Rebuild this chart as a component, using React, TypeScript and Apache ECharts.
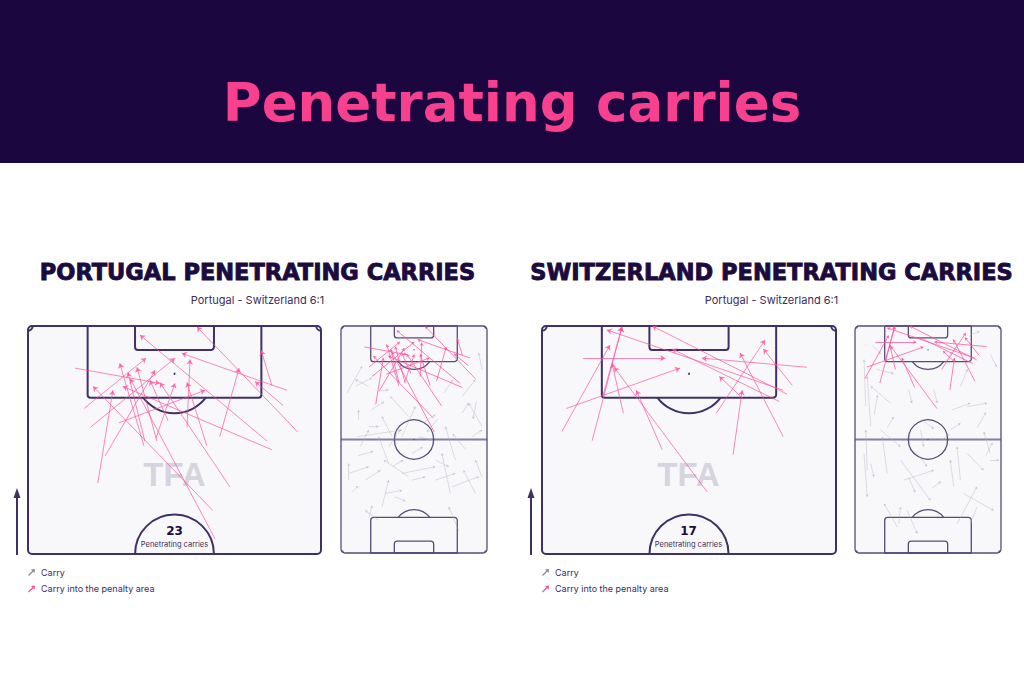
import React, { useEffect, useRef } from "react";
import * as echarts from "echarts";

// ---------- texts ----------
const MAIN_TITLE = "Penetrating carries";
const PANEL_TITLES = ["PORTUGAL PENETRATING CARRIES", "SWITZERLAND PENETRATING CARRIES"];
const SUBTITLE = "Portugal - Switzerland 6:1";
const LEGEND_LABELS = ["Carry", "Carry into the penalty area"];
const COUNT_LABEL = "Penetrating carries";
const WATERMARK = "TFA";

// ---------- pitch (metres, 68 wide, 105 long, attacking upwards) ----------
const PITCH_W = 68;
const PITCH_L = 105;

// carries: [xStart, yStart, xEnd, yEnd] in metres
const portugalPenetrating = [
  [62.6, 80.6, 39.2, 104.8],
  [56.6, 91.3, 54.1, 99.4],
  [59.2, 86.7, 52.7, 92.2],
  [55.5, 78.5, 26.0, 102.9],
  [60.1, 90.2, 35.7, 98.7],
  [10.9, 95.3, 30.6, 91.8],
  [13.0, 86.0, 27.4, 97.6],
  [14.4, 81.6, 34.1, 97.6],
  [16.2, 68.8, 19.7, 90.2],
  [21.1, 82.7, 41.1, 90.2],
  [26.9, 77.4, 21.3, 96.4],
  [29.9, 78.5, 25.3, 95.5],
  [42.9, 62.5, 15.1, 91.1],
  [43.4, 56.0, 23.7, 92.9],
  [46.9, 67.9, 30.6, 92.0],
  [36.9, 81.6, 37.6, 97.3],
  [41.5, 77.4, 36.9, 92.0],
  [44.5, 79.5, 49.0, 95.3],
  [56.6, 76.5, 22.0, 91.1],
  [29.7, 79.2, 34.1, 91.8],
  [17.9, 75.1, 29.5, 94.8],
  [27.1, 78.5, 23.2, 94.3],
  [32.5, 83.2, 28.3, 92.5],
];

const switzerlandPenetrating = [
  [9.5, 97.6, 28.5, 97.6],
  [5.6, 86.0, 31.9, 95.3],
  [4.6, 80.7, 15.7, 100.6],
  [11.6, 78.6, 18.5, 104.8],
  [18.8, 84.9, 16.2, 96.4],
  [27.8, 76.5, 21.8, 90.2],
  [38.2, 66.8, 16.7, 95.5],
  [44.2, 75.4, 46.3, 90.2],
  [40.3, 84.9, 51.6, 101.8],
  [55.8, 79.5, 45.8, 98.8],
  [57.9, 91.3, 51.2, 99.7],
  [61.3, 95.5, 37.0, 97.6],
  [46.5, 88.3, 41.0, 93.4],
  [56.7, 89.3, 25.5, 105.0],
  [55.8, 90.2, 15.0, 104.1],
  [54.9, 87.6, 30.1, 99.7],
  [14.1, 89.0, 18.5, 104.8],
];

const portugalCarries = [
  [2.8, 74.0, 9.8, 86.4],
  [6.7, 77.1, 14.4, 81.0],
  [8.2, 61.6, 8.2, 66.2],
  [12.9, 58.5, 17.5, 58.5],
  [7.5, 53.8, 28.4, 56.9],
  [9.0, 49.2, 12.9, 56.9],
  [23.8, 53.8, 19.1, 63.1],
  [22.2, 41.4, 17.5, 53.8],
  [3.6, 33.7, 3.6, 41.4],
  [3.6, 36.8, 12.9, 39.9],
  [11.3, 33.7, 18.3, 38.3],
  [31.5, 35.2, 19.9, 43.0],
  [28.4, 36.8, 43.9, 39.9],
  [22.2, 49.2, 27.6, 56.9],
  [31.5, 63.1, 23.0, 72.4],
  [28.4, 53.8, 34.6, 67.8],
  [43.9, 43.0, 50.2, 39.9],
  [50.9, 27.5, 47.0, 46.1],
  [56.4, 72.4, 62.6, 80.2],
  [65.7, 58.5, 59.5, 69.3],
  [53.3, 43.0, 48.6, 58.5],
  [65.7, 84.8, 64.1, 92.6],
  [62.6, 27.5, 57.1, 38.3],
  [65.7, 35.2, 62.6, 43.0],
  [51.7, 30.6, 64.1, 35.2],
  [43.9, 33.7, 53.3, 36.8],
  [17.5, 15.1, 11.3, 19.7],
  [54.8, 10.4, 50.2, 21.3],
  [19.1, 21.3, 22.2, 33.7],
  [20.7, 27.5, 28.4, 29.0],
  [33.1, 33.7, 39.3, 35.2],
  [36.2, 53.8, 42.4, 52.3],
  [12.9, 77.1, 6.7, 80.2],
  [17.5, 74.8, 22.2, 75.5],
  [61.0, 53.8, 65.7, 56.9],
  [56.4, 64.7, 59.5, 69.3],
  [13.0, 16.0, 14.5, 22.0],
  [63.0, 70.0, 61.5, 62.0],
  [33.0, 46.0, 38.0, 49.0],
  [24.0, 40.0, 29.0, 43.0],
  [45.0, 62.0, 40.0, 56.0],
  [8.0, 45.0, 15.0, 47.0],
  [58.0, 48.0, 52.0, 55.0],
  [38.0, 60.0, 44.0, 64.0],
  [14.0, 66.0, 20.0, 70.0],
  [48.0, 74.0, 52.0, 80.0],
  [25.0, 26.0, 30.0, 24.0],
  [5.0, 28.0, 8.0, 31.0],
];

const switzerlandCarries = [
  [5.0, 67.8, 4.2, 89.5],
  [7.3, 58.5, 5.7, 81.7],
  [16.6, 69.3, 7.3, 77.1],
  [9.0, 64.0, 10.5, 73.0],
  [5.7, 38.3, 5.0, 56.9],
  [11.9, 56.9, 21.2, 49.2],
  [15.0, 36.8, 12.7, 53.8],
  [21.2, 43.0, 35.1, 24.4],
  [22.8, 33.7, 36.7, 38.3],
  [25.0, 35.0, 28.0, 28.0],
  [19.7, 12.0, 13.5, 22.8],
  [20.4, 13.5, 21.2, 21.3],
  [49.1, 33.7, 47.5, 49.2],
  [46.0, 30.6, 44.4, 43.0],
  [52.2, 46.1, 59.9, 38.3],
  [50.6, 27.5, 64.6, 19.7],
  [47.5, 13.5, 56.8, 30.6],
  [61.0, 45.0, 64.0, 51.0],
  [63.0, 46.0, 60.0, 56.0],
  [44.4, 56.9, 49.1, 60.0],
  [45.2, 66.2, 53.7, 69.3],
  [52.2, 67.7, 61.5, 69.3],
  [49.0, 77.0, 52.5, 85.0],
  [63.0, 92.0, 66.0, 86.0],
  [54.0, 101.0, 58.0, 102.5],
  [30.5, 56.9, 32.0, 49.2],
  [29.0, 46.0, 33.5, 40.0],
  [30.5, 62.0, 36.7, 57.5],
  [36.7, 75.5, 38.3, 69.3],
  [25.0, 75.5, 26.5, 69.3],
  [63.0, 43.0, 67.0, 43.0],
  [56.8, 21.3, 53.7, 13.5],
  [24.3, 19.7, 29.0, 9.0],
  [4.2, 46.0, 5.7, 26.0],
  [7.3, 41.4, 8.8, 35.2],
  [10.0, 85.0, 18.0, 83.0],
  [40.0, 52.0, 44.0, 55.0],
  [36.0, 30.0, 40.0, 33.0],
  [57.0, 58.0, 61.0, 65.0],
  [15.0, 58.0, 18.0, 63.0],
  [42.0, 88.0, 45.0, 93.0],
  [8.0, 96.0, 12.0, 92.0],
];

// ---------- styles ----------
const HEADER_BG = "#1b0640";
const TITLE_PINK = "#f7418f";
const INK = "#1c0b3f";
const LINE = "#3f3166";
const LINE_SMALL = "#574b78";
const PITCH_BG = "#f8f8fa";
const PINK = "#fb4f9d";
const GREY = "#b3b0c2";

const makePitch = (half: boolean, lw: number, color: string) => (params: any, api: any) => {
  const c = (x: number, y: number) => api.coord([x, y]);
  const s = c(1, 0)[0] - c(0, 0)[0];
  const yMin = half ? PITCH_L / 2 : 0;
  const tl = c(0, PITCH_L);
  const br = c(PITCH_W, yMin);
  const st = { stroke: color, lineWidth: lw, fill: "none" };
  const kids: any[] = [];
  kids.push({
    type: "rect",
    shape: { x: tl[0], y: tl[1], width: br[0] - tl[0], height: br[1] - tl[1], r: 4 },
    style: { fill: PITCH_BG, stroke: color, lineWidth: lw },
  });
  const rectFrom = (a: number[], b: number[], r: any) => ({
    type: "rect",
    shape: {
      x: Math.min(a[0], b[0]),
      y: Math.min(a[1], b[1]),
      width: Math.abs(b[0] - a[0]),
      height: Math.abs(b[1] - a[1]),
      r,
    },
    style: st,
  });
  const a0 = Math.asin(5.5 / 9.15);
  kids.push(rectFrom(c(13.84, PITCH_L), c(54.16, PITCH_L - 16.5), [0, 0, 3, 3]));
  kids.push(rectFrom(c(24.84, PITCH_L), c(43.16, PITCH_L - 5.5), [0, 0, 3, 3]));
  const spT = c(34, PITCH_L - 11);
  kids.push({ type: "circle", shape: { cx: spT[0], cy: spT[1], r: half ? 1 : 0.6 }, style: { fill: color } });
  kids.push({
    type: "arc",
    shape: { cx: spT[0], cy: spT[1], r: 9.15 * s, startAngle: a0, endAngle: Math.PI - a0 },
    style: st,
  });
  const cTL = c(0, PITCH_L);
  const cTR = c(PITCH_W, PITCH_L);
  kids.push({ type: "arc", shape: { cx: cTL[0], cy: cTL[1], r: 1.1 * s, startAngle: 0, endAngle: Math.PI / 2 }, style: st });
  kids.push({ type: "arc", shape: { cx: cTR[0], cy: cTR[1], r: 1.1 * s, startAngle: Math.PI / 2, endAngle: Math.PI }, style: st });
  const ctr = c(34, PITCH_L / 2);
  if (half) {
    kids.push({
      type: "arc",
      shape: { cx: ctr[0], cy: ctr[1], r: 9.15 * s, startAngle: Math.PI, endAngle: Math.PI * 2 },
      style: st,
    });
  } else {
    const h0 = c(0, PITCH_L / 2);
    const h1 = c(PITCH_W, PITCH_L / 2);
    kids.push({ type: "line", shape: { x1: h0[0], y1: h0[1], x2: h1[0], y2: h1[1] }, style: { stroke: color, lineWidth: lw + 0.6, opacity: 0.7 } });
    kids.push({ type: "circle", shape: { cx: ctr[0], cy: ctr[1], r: 9.15 * s }, style: st });
    kids.push({ type: "circle", shape: { cx: ctr[0], cy: ctr[1], r: 0.6 }, style: { fill: color } });
    kids.push(rectFrom(c(13.84, 16.5), c(54.16, 0), [3, 3, 0, 0]));
    kids.push(rectFrom(c(24.84, 5.5), c(43.16, 0), [3, 3, 0, 0]));
    const spB = c(34, 11);
    kids.push({ type: "circle", shape: { cx: spB[0], cy: spB[1], r: 0.6 }, style: { fill: color } });
    kids.push({
      type: "arc",
      shape: { cx: spB[0], cy: spB[1], r: 9.15 * s, startAngle: Math.PI + a0, endAngle: Math.PI * 2 - a0 },
      style: st,
    });
    const cBL = c(0, 0);
    const cBR = c(PITCH_W, 0);
    kids.push({ type: "arc", shape: { cx: cBL[0], cy: cBL[1], r: 1.1 * s, startAngle: Math.PI * 1.5, endAngle: Math.PI * 2 }, style: st });
    kids.push({ type: "arc", shape: { cx: cBR[0], cy: cBR[1], r: 1.1 * s, startAngle: Math.PI, endAngle: Math.PI * 1.5 }, style: st });
  }
  return { type: "group", children: kids };
};

const toLines = (arr: number[][]) => arr.map((d) => ({ coords: [[d[0], d[1]], [d[2], d[3]]] }));

// layout of the four pitches: [left, top, width, height, half]
const PITCHES: [number, number, number, number, boolean][] = [
  [28, 326, 293, 228, true],
  [341, 326, 146, 227, false],
  [542, 326, 294, 228, true],
  [855, 326, 146, 227, false],
];

export default function App() {
  const ref = useRef<HTMLDivElement>(null);
  useEffect(() => {
    if (!ref.current) return;
    const chart = echarts.init(ref.current, undefined, { renderer: "svg" });

    const grid = PITCHES.map((p) => ({ left: p[0], top: p[1], width: p[2], height: p[3], containLabel: false }));
    const xAxis = PITCHES.map((p, i) => ({ type: "value", gridIndex: i, min: 0, max: PITCH_W, show: false }));
    const yAxis = PITCHES.map((p, i) => ({ type: "value", gridIndex: i, min: p[4] ? PITCH_L / 2 : 0, max: PITCH_L, show: false }));

    const series: any[] = [];
    PITCHES.forEach((p, i) => {
      series.push({
        type: "custom",
        coordinateSystem: "cartesian2d",
        xAxisIndex: i,
        yAxisIndex: i,
        data: [[34, 80]],
        renderItem: makePitch(p[4], p[4] ? 2 : 1.3, p[4] ? LINE : LINE_SMALL),
        silent: true,
        z: 1,
      });
    });
    const teamsPen = [portugalPenetrating, switzerlandPenetrating];
    const teamsAll = [portugalCarries, switzerlandCarries];
    [0, 1].forEach((t) => {
      const big = t * 2;
      const small = t * 2 + 1;
      series.push({
        type: "lines",
        coordinateSystem: "cartesian2d",
        xAxisIndex: big,
        yAxisIndex: big,
        symbol: ["none", "arrow"],
        symbolSize: 5,
        lineStyle: { color: PINK, width: 0.9, opacity: 0.75, curveness: 0 },
        data: toLines(teamsPen[t]),
        silent: true,
        z: 3,
      });
      series.push({
        type: "lines",
        coordinateSystem: "cartesian2d",
        xAxisIndex: small,
        yAxisIndex: small,
        symbol: ["none", "arrow"],
        symbolSize: 2.5,
        lineStyle: { color: GREY, width: 0.7, opacity: 0.6, curveness: 0 },
        data: toLines(teamsAll[t]),
        silent: true,
        z: 2,
      });
      series.push({
        type: "lines",
        coordinateSystem: "cartesian2d",
        xAxisIndex: small,
        yAxisIndex: small,
        symbol: ["none", "arrow"],
        symbolSize: 3,
        lineStyle: { color: PINK, width: 0.9, opacity: 0.8, curveness: 0 },
        data: toLines(teamsPen[t]),
        silent: true,
        z: 3,
      });
    });

    const center = { align: "center", verticalAlign: "middle", textAlign: "center", textVerticalAlign: "middle" };
    const graphic: any[] = [
      { type: "rect", shape: { x: 0, y: 0, width: 1024, height: 163 }, style: { fill: HEADER_BG }, z: 0 },
      {
        type: "text",
        x: 512,
        y: 102,
        style: {
          text: MAIN_TITLE,
          fill: TITLE_PINK,
          fontFamily: "DejaVu Sans",
          fontWeight: "bold",
          fontSize: 53,
          ...center,
        },
      },
    ];
    const counts = [portugalPenetrating.length, switzerlandPenetrating.length];
    [0, 1].forEach((t) => {
      const dx = t * 514;
      const cx = 257.5 + dx;
      const bigCx = 28 + 146.5 + dx;
      graphic.push(
        {
          type: "text",
          x: cx,
          y: 272,
          style: {
            text: PANEL_TITLES[t],
            fill: INK,
            stroke: INK,
            lineWidth: 0.9,
            fontFamily: "DejaVu Sans",
            fontWeight: "bold",
            fontSize: 22.5,
            ...center,
          },
        },
        {
          type: "text",
          x: cx,
          y: 300,
          style: { text: SUBTITLE, fill: "#3a2d5c", fontFamily: "Inter", fontSize: 11, ...center },
        },
        {
          type: "text",
          x: bigCx,
          y: 474,
          z: 2,
          style: {
            text: WATERMARK,
            fill: "#d6d4de",
            fontFamily: "Liberation Sans",
            fontWeight: "bold",
            fontSize: 33,
            ...center,
          },
        },
        {
          type: "text",
          x: bigCx,
          y: 531,
          z: 5,
          style: {
            text: String(counts[t]),
            fill: INK,
            fontFamily: "DejaVu Sans",
            fontWeight: "bold",
            fontSize: 12,
            ...center,
          },
        },
        {
          type: "text",
          x: bigCx,
          y: 544,
          z: 5,
          style: { text: COUNT_LABEL, fill: "#3a2d5c", fontFamily: "Inter", fontSize: 7.5, ...center },
        },
        {
          type: "line",
          shape: { x1: 17 + dx, y1: 555, x2: 17 + dx, y2: 494 },
          style: { stroke: LINE, lineWidth: 2 },
        },
        {
          type: "polygon",
          shape: { points: [[13.5 + dx, 498], [20.5 + dx, 498], [17 + dx, 488]] },
          style: { fill: LINE },
        },
        {
          type: "line",
          shape: { x1: 28.5 + dx, y1: 575.5, x2: 33 + dx, y2: 571 },
          style: { stroke: "#8d87a0", lineWidth: 1.3 },
        },
        {
          type: "polygon",
          shape: { points: [[31 + dx, 569.5], [35 + dx, 569], [34.5 + dx, 573]] },
          style: { fill: "#8d87a0" },
        },
        {
          type: "line",
          shape: { x1: 28.5 + dx, y1: 592, x2: 33 + dx, y2: 587.5 },
          style: { stroke: PINK, lineWidth: 1.3 },
        },
        {
          type: "polygon",
          shape: { points: [[31 + dx, 586], [35 + dx, 585.5], [34.5 + dx, 589.5]] },
          style: { fill: PINK },
        },
        {
          type: "text",
          x: 41 + dx,
          y: 572,
          style: {
            text: LEGEND_LABELS[0],
            fill: "#3a2d5c",
            fontFamily: "Inter",
            fontSize: 9,
            align: "left",
            verticalAlign: "middle",
            textAlign: "left",
            textVerticalAlign: "middle",
          },
        },
        {
          type: "text",
          x: 41 + dx,
          y: 588,
          style: {
            text: LEGEND_LABELS[1],
            fill: "#3a2d5c",
            fontFamily: "Inter",
            fontSize: 9,
            align: "left",
            verticalAlign: "middle",
            textAlign: "left",
            textVerticalAlign: "middle",
          },
        }
      );
    });

    chart.setOption({
      animation: false,
      backgroundColor: "#ffffff",
      grid,
      xAxis,
      yAxis,
      series,
      graphic,
    });
    return () => chart.dispose();
  }, []);

  return <div ref={ref} style={{ position: "absolute", left: 0, top: 0, width: 1024, height: 683 }} />;
}
